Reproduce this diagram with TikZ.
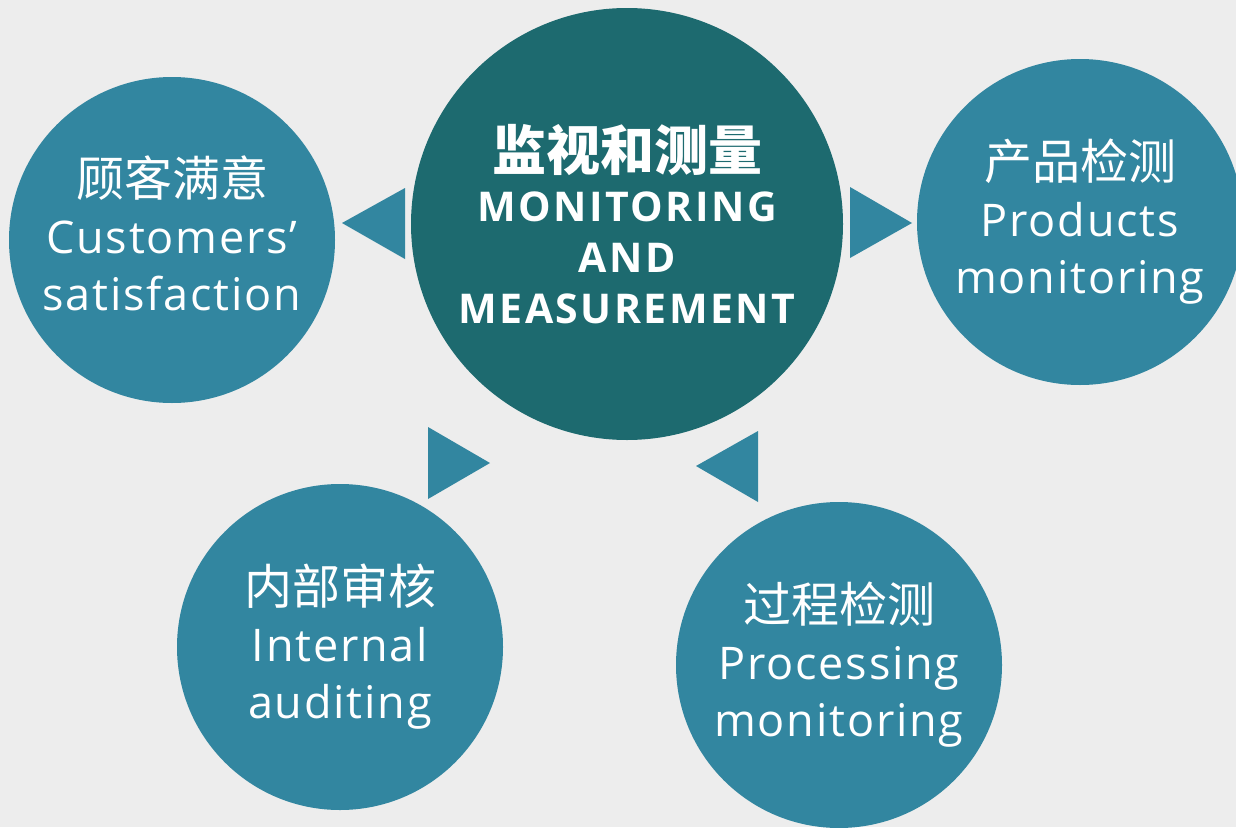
\documentclass[tikz,border=0pt]{standalone}
\usepackage{fontspec}
\setmainfont{Open Sans}
\newfontfamily\cjk{Noto Sans CJK SC}
\definecolor{bgc}{HTML}{EDEDED}
\definecolor{darkteal}{HTML}{1D6A6F}
\definecolor{teal2}{HTML}{3286A0}
\begin{document}
\begin{tikzpicture}[x=1pt,y=-1pt,
  bubble/.style={circle,fill=teal2,text=white,inner sep=0pt,minimum size=326pt,align=center,
     font=\fontsize{45}{57}\selectfont\addfontfeature{LetterSpace=4}},
  bubbletext/.style={text=white,inner sep=0pt,align=center,
     font=\fontsize{45}{57}\selectfont\addfontfeature{LetterSpace=4}},
  hub/.style={circle,fill=darkteal,text=white,inner sep=0pt,minimum size=432pt,align=center,
     font=\fontsize{41}{51}\selectfont\bfseries\addfontfeature{LetterSpace=6}},
  tri/.style={fill=teal2}]
\path[use as bounding box] (0,0) rectangle (1236,827);
\clip (0,0) rectangle (1236,827);
\fill[bgc] (0,0) rectangle (1236,827);
\node[hub] (hub) at (627,224) {{\cjk\fontsize{54}{54}\selectfont\bfseries 监视和测量}\\MONITORING\\AND\\MEASUREMENT};
\node[bubble] (cust) at (172,240) {};
\node[bubbletext] (custtext) at ([yshift=7pt]cust.center) {{\cjk\fontsize{48}{48}\selectfont 顾客满意}\\Customers’\\satisfaction};
\node[bubble] (prod) at (1080,222) {{\cjk\fontsize{48}{48}\selectfont 产品检测}\\Products\\monitoring};
\node[bubble] (audit) at (340,647) {{\cjk\fontsize{48}{48}\selectfont 内部审核}\\Internal\\auditing};
\node[bubble] (proc) at (839,665) {{\cjk\fontsize{48}{48}\selectfont 过程检测}\\Processing\\monitoring};
\fill[tri] (405,188) -- (342,223) -- (405,259) -- cycle;
\fill[tri] (850,187) -- (912,223) -- (850,258) -- cycle;
\fill[tri] (428,427) -- (490,463) -- (428,499) -- cycle;
\fill[tri] (758,431) -- (696,466) -- (758,502) -- cycle;
\end{tikzpicture}
\end{document}
